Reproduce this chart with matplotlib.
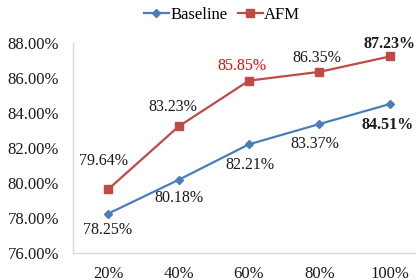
import matplotlib.pyplot as plt

ratios = ["20%", "40%", "60%", "80%", "100%"]
baseline = [78.25, 80.18, 82.21, 83.37, 84.51]
afm = [79.64, 83.23, 85.85, 86.35, 87.23]
y_ticks = [76, 78, 80, 82, 84, 86, 88]

plt.rcParams['font.family'] = ['Liberation Serif', 'DejaVu Serif']

fig = plt.figure(figsize=(4.16, 2.8), dpi=100)
# axes spill past the right edge like the original export
ax = fig.add_axes([73 / 416, 27 / 280, 352 / 416, 210 / 280])

x = list(range(len(ratios)))
blue = '#4A7EBB'
red = '#BE4B48'
ax.plot(x, baseline, color=blue, lw=1.6, marker='D', ms=4.5, label='Baseline')
ax.plot(x, afm, color=red, lw=1.6, marker='s', ms=6, label='AFM')

# label offsets in pixels (dx, dy)
b_off = [(-1, -16), (0, -18), (1, -21), (-5, -20), (-2, -21)]
a_off = [(-5, 28), (-6, 19), (-7, 15), (-3, 14), (0, 12)]
for i, v in enumerate(baseline):
    bold = i == len(baseline) - 1
    ax.annotate(f"{v:.2f}%", (x[i], v), xytext=b_off[i], textcoords='offset pixels',
                ha='center', va='center', fontsize=11.5, color='#1a1a1a',
                fontweight='bold' if bold else 'normal')
for i, v in enumerate(afm):
    bold = i == len(afm) - 1
    c = 'red' if i == 2 else '#1a1a1a'
    ax.annotate(f"{v:.2f}%", (x[i], v), xytext=a_off[i], textcoords='offset pixels',
                ha='center', va='center', fontsize=11.5, color=c,
                fontweight='bold' if bold else 'normal')

ax.set_xlim(-0.5, 4.5)
ax.set_ylim(76, 88)
ax.set_yticks(y_ticks)
ax.set_yticklabels([f"{t:.2f}%" for t in y_ticks])
ax.set_xticks(x)
ax.set_xticklabels(ratios)
ax.tick_params(axis='both', length=0, labelsize=12, labelcolor='#1a1a1a')
ax.tick_params(axis='y', pad=10)
ax.tick_params(axis='x', pad=9)
for s in ['top', 'right']:
    ax.spines[s].set_visible(False)
for s in ['left', 'bottom']:
    ax.spines[s].set_color('#d9d9d9')
    ax.spines[s].set_linewidth(1)

fig.legend(loc='center', bbox_to_anchor=(222 / 416, 1 - 15 / 280), ncol=2,
           frameon=False, fontsize=12, handlelength=1.5, columnspacing=0.6,
           handletextpad=0.1)

fig.savefig('out.png', dpi=100)
